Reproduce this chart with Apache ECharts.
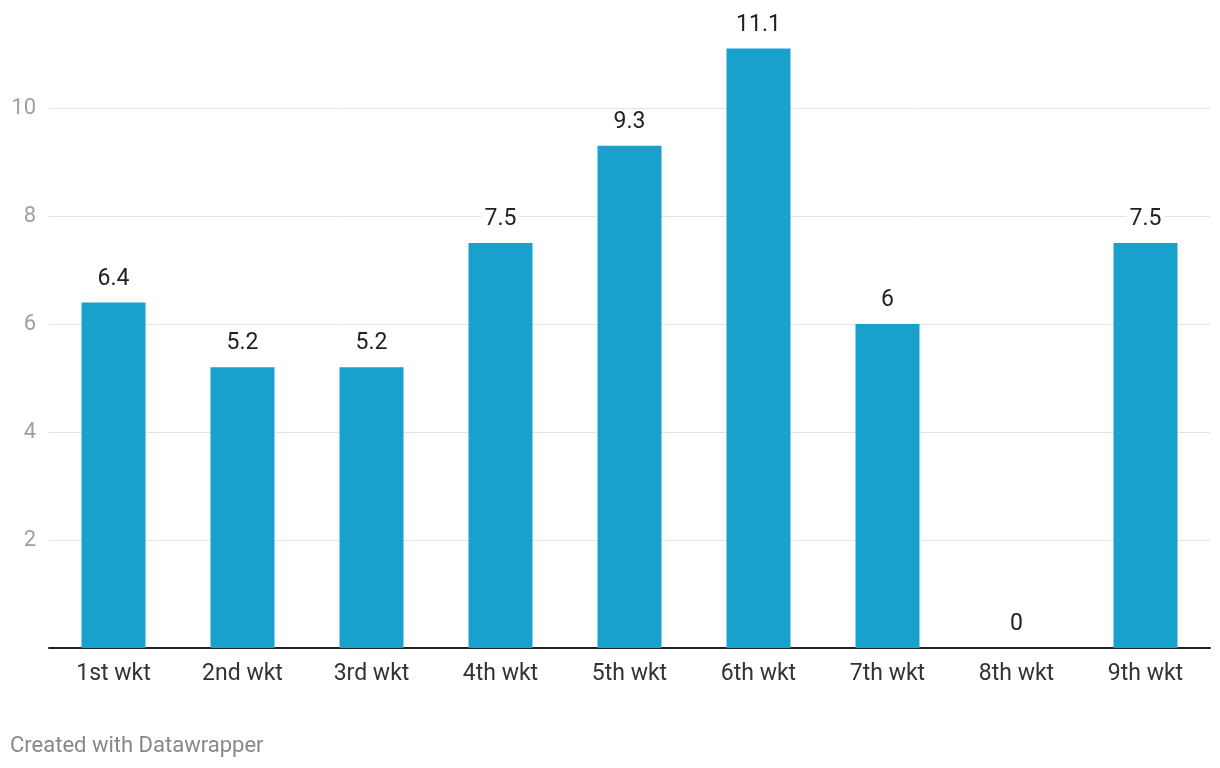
<!DOCTYPE html>
<html>
<head>
<meta charset="utf-8">
<script src="https://cdn.jsdelivr.net/npm/echarts@6/dist/echarts.min.js"></script>
<style>
html,body{margin:0;padding:0;background:#fff;}
#chart{width:1220px;height:768px;}
</style>
</head>
<body>
<div id="chart"></div>
<script>
const categories = ['1st wkt','2nd wkt','3rd wkt','4th wkt','5th wkt','6th wkt','7th wkt','8th wkt','9th wkt'];
const values = [6.4, 5.2, 5.2, 7.5, 9.3, 11.1, 6, 0, 7.5];
const footerText = 'Created with Datawrapper';

const chart = echarts.init(document.getElementById('chart'));
chart.setOption({
  animation: false,
  textStyle: {fontFamily: 'Roboto'},
  title: {
    text: footerText,
    left: 5, top: 730,
    textStyle: {fontFamily: 'Roboto', fontSize: 22, fontWeight: 'normal', color: '#888'}
  },
  grid: {left: 49, right: 10, top: 0, bottom: 120, containLabel: false},
  xAxis: {
    type: 'category',
    data: categories,
    axisLine: {show: true, lineStyle: {color: '#222', width: 2}},
    axisTick: {show: false},
    axisLabel: {fontFamily: 'Roboto', fontSize: 23, color: '#333', margin: 15}
  },
  yAxis: {
    type: 'value',
    min: 0, max: 12, interval: 2,
    axisLine: {show: false},
    axisTick: {show: false},
    axisLabel: {fontFamily: 'Roboto', fontSize: 22, color: '#a0a0a0', margin: 13, showMinLabel: false, showMaxLabel: false},
    splitLine: {show: true, showMinLine: false, showMaxLine: false, lineStyle: {color: '#e3e3e3', width: 1}}
  },
  series: [{
    type: 'bar',
    data: values,
    barWidth: 64,
    itemStyle: {color: '#18a1cd'},
    label: {
      show: true,
      position: 'top',
      distance: 11,
      fontFamily: 'Roboto',
      fontSize: 23,
      color: '#222',
      backgroundColor: '#fff',
      padding: [1, 3]
    }
  }]
});
</script>
</body>
</html>
